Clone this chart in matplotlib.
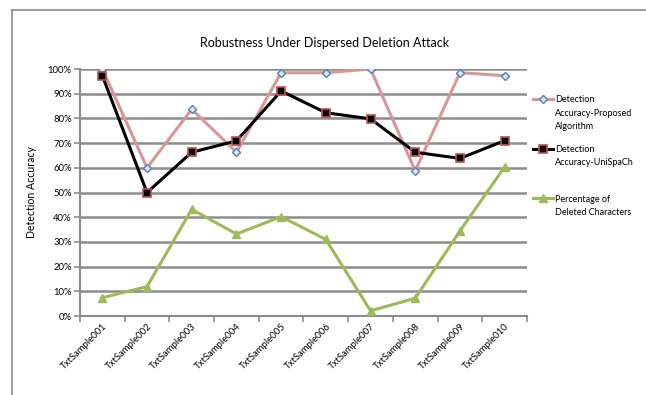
import matplotlib.pyplot as plt
import numpy as np

plt.rcParams['font.family'] = ['Lato', 'DejaVu Sans']

# ---- data ----
samples = ['TxtSample001', 'TxtSample002', 'TxtSample003', 'TxtSample004', 'TxtSample005',
           'TxtSample006', 'TxtSample007', 'TxtSample008', 'TxtSample009', 'TxtSample010']
proposed = [100, 60, 83.7, 66.3, 98.5, 98.5, 100, 58.8, 98.5, 97.3]
unispach = [97.3, 50, 66.3, 70.9, 91.1, 82.3, 79.8, 66.3, 63.8, 71]
deleted = [7.4, 11.9, 43.2, 33.2, 40.2, 31, 2.1, 7.2, 34.4, 60.4]

# legend labels split in lines, as in the original (first line sits next to the key)
legend_lines = [['Detection', 'Accuracy-Proposed', 'Algorithm'],
                ['Detection', 'Accuracy-UniSpaCh'],
                ['Percentage of', 'Deleted Characters']]

fig = plt.figure(figsize=(6.46, 3.95), dpi=100)
ax = fig.add_axes([0.1238, 0.2, 0.692, 0.6253])

x = np.arange(len(samples))
grid_col = '#8c8c8c'

ax.plot(x, proposed, color='#d99694', linewidth=2.2, marker='D', markersize=4.5,
        markerfacecolor='#dce6f2', markeredgecolor='#4f81bd', markeredgewidth=1.0,
        label=legend_lines[0][0], zorder=3)
ax.plot(x, unispach, color='black', linewidth=2.2, marker='s', markersize=5.5,
        markerfacecolor='black', markeredgecolor='#c0504d', markeredgewidth=1.2,
        label=legend_lines[1][0], zorder=4)
ax.plot(x, deleted, color='#9bbb59', linewidth=2.2, marker='^', markersize=5.5,
        markerfacecolor='#9bbb59', markeredgecolor='#9bbb59',
        label=legend_lines[2][0], zorder=3)

ax.set_xlim(-0.5, len(samples) - 0.5)
ax.set_ylim(0, 100)
ax.set_yticks(np.arange(0, 101, 10))
ax.set_yticklabels([f'{v}%' for v in range(0, 101, 10)], fontsize=6.8)
ax.yaxis.grid(True, color=grid_col, linewidth=1.8)
ax.set_axisbelow(True)

# category labels centred, ticks on the category boundaries
ax.set_xticks(x)
ax.set_xticklabels(samples, rotation=45, ha='right', rotation_mode='anchor', fontsize=6.8)
ax.tick_params(axis='x', length=0, pad=4)
ax.set_xticks(np.arange(-0.5, len(samples)), minor=True)
ax.tick_params(axis='x', which='minor', length=4, color=grid_col, width=1.2, direction='out')
ax.tick_params(axis='y', length=4, color=grid_col, width=1.2, pad=2)

for s in ['top', 'right']:
    ax.spines[s].set_visible(False)
for s in ['left', 'bottom']:
    ax.spines[s].set_color(grid_col)
    ax.spines[s].set_linewidth(1.5)

ax.set_ylabel('Detection Accuracy', fontsize=7.6, labelpad=8)

fig.text(0.503, 0.89, 'Robustness Under Dispersed Deletion Attack', ha='center', va='center',
         fontsize=9)

leg = ax.legend(loc='upper left', bbox_to_anchor=(1.0, 0.919), frameon=False, fontsize=6.5,
                handlelength=2.2, handletextpad=0.2, labelspacing=4.5, borderaxespad=0.3)

# continuation lines of each legend label, placed under the first line
fig.canvas.draw()
renderer = fig.canvas.get_renderer()
inv = fig.transFigure.inverted()
line_step = 13.3 / 395
for txt, lines in zip(leg.get_texts(), legend_lines):
    bb = txt.get_window_extent(renderer)
    x0, y0 = inv.transform((bb.x0, bb.y0))
    for k, extra in enumerate(lines[1:], start=1):
        fig.text(x0, y0 - k * line_step, extra, fontsize=6.5, ha='left', va='bottom')

# outer chart border (top and left edges visible in the reference)
fig.add_artist(plt.Line2D([12 / 646, 12 / 646], [0, 1 - 10 / 395], color='#8c8c8c',
                          linewidth=1.2, transform=fig.transFigure))
fig.add_artist(plt.Line2D([12 / 646, 1], [1 - 10 / 395, 1 - 10 / 395], color='#8c8c8c',
                          linewidth=1.2, transform=fig.transFigure))

fig.savefig('out.png', dpi=100)
